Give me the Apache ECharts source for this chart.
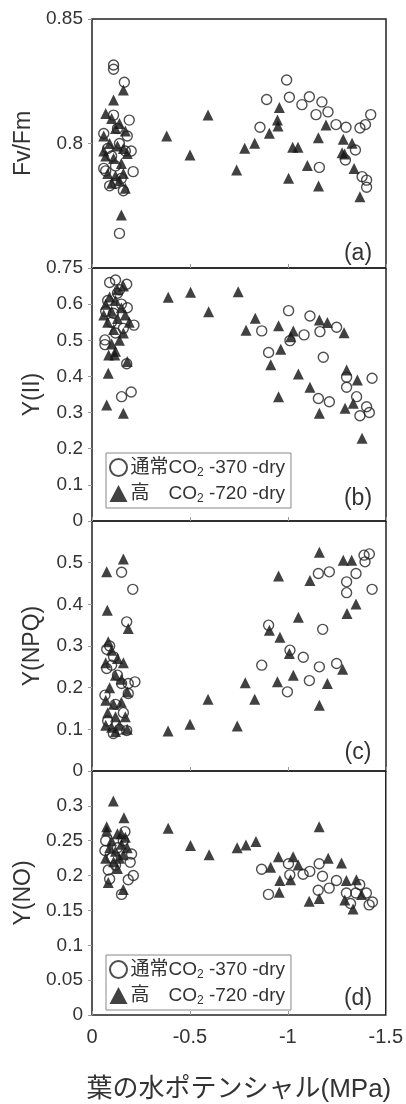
<!DOCTYPE html>
<html>
<head>
<meta charset="utf-8">
<script src="https://cdn.jsdelivr.net/npm/echarts@6/dist/echarts.min.js"></script>
<style>
  html, body { margin: 0; padding: 0; background: #fff; }
  #chart { width: 406px; height: 1104px; }
</style>
</head>
<body>
<div id="chart"></div>
<script>
// データ: [葉の水ポテンシャル(MPa), 値]
// (a) Fv/Fm
var fvfmNormal = [
  [-0.11,0.8315],[-0.11,0.8298],[-0.165,0.8246],[-0.06,0.804],[-0.19,0.8094],[-0.21,0.7887],
  [-0.14,0.7639],[-0.11,0.8114],[-0.08,0.798],[-0.13,0.806],[-0.17,0.797],[-0.2,0.797],
  [-0.07,0.789],[-0.12,0.791],[-0.15,0.786],[-0.09,0.783],[-0.16,0.781],[-0.1,0.795],
  [-0.18,0.803],[-0.14,0.8],[-0.06,0.79],[-0.12,0.784],
  [-0.993,0.8255],[-0.891,0.8177],[-1.007,0.8186],[-1.109,0.8188],[-1.071,0.8156],[-1.173,0.8167],
  [-1.143,0.8116],[-1.204,0.8127],[-0.857,0.8065],[-1.245,0.8076],[-1.296,0.8065],[-1.367,0.8062],
  [-1.395,0.8076],[-1.422,0.8116],[-1.344,0.7974],[-1.293,0.7934],[-1.16,0.7904],[-1.378,0.7867],
  [-1.401,0.7853],[-1.401,0.7824]
];
var fvfmHigh = [
  [-0.16,0.8215],[-0.11,0.8175],[-0.15,0.7713],[-0.07,0.812],[-0.1,0.81],[-0.14,0.808],
  [-0.17,0.805],[-0.06,0.803],[-0.09,0.8],[-0.13,0.799],[-0.16,0.798],[-0.07,0.795],
  [-0.11,0.794],[-0.15,0.792],[-0.18,0.796],[-0.08,0.788],[-0.12,0.787],[-0.16,0.788],
  [-0.1,0.784],[-0.14,0.785],[-0.17,0.782],[-0.06,0.797],[-0.12,0.806],
  [-0.381,0.803],[-0.5,0.7954],[-0.592,0.8114],[-0.738,0.7894],[-0.779,0.7981],[-0.83,0.8001],
  [-0.905,0.8041],[-0.956,0.8145],[-0.946,0.8094],[-0.949,0.807],[-1.003,0.786],[-1.024,0.7985],
  [-1.051,0.7985],[-1.099,0.7912],[-1.155,0.8023],[-1.156,0.7829],[-1.194,0.8074],[-1.282,0.8017],
  [-1.327,0.8001],[-1.276,0.7963],[-1.289,0.7958],[-1.337,0.79],[-1.367,0.7786]
];
// (b) Y(II)
var y2Normal = [
  [-0.12,0.667],[-0.177,0.655],[-0.214,0.542],[-0.066,0.501],[-0.066,0.488],[-0.177,0.435],
  [-0.151,0.344],[-0.2,0.357],[-0.109,0.575],[-0.16,0.533],[-0.08,0.61],[-0.13,0.63],
  [-0.1,0.55],[-0.15,0.6],[-0.07,0.58],[-0.18,0.59],[-0.12,0.52],[-0.14,0.64],[-0.09,0.66],
  [-0.866,0.526],[-0.901,0.466],[-1.003,0.582],[-1.01,0.499],[-1.082,0.515],[-1.112,0.567],
  [-1.163,0.524],[-1.18,0.453],[-1.155,0.339],[-1.211,0.33],[-1.248,0.536],[-1.299,0.398],
  [-1.299,0.37],[-1.35,0.344],[-1.367,0.291],[-1.401,0.316],[-1.415,0.3],[-1.429,0.395]
];
var y2High = [
  [-0.075,0.321],[-0.16,0.298],[-0.083,0.409],[-0.085,0.459],[-0.116,0.459],[-0.18,0.441],
  [-0.07,0.6],[-0.09,0.62],[-0.1,0.58],[-0.12,0.61],[-0.13,0.56],[-0.15,0.59],[-0.17,0.57],
  [-0.08,0.55],[-0.11,0.53],[-0.14,0.5],[-0.16,0.52],[-0.19,0.55],[-0.1,0.49],[-0.13,0.64],
  [-0.16,0.65],[-0.06,0.57],[-0.12,0.47],
  [-0.389,0.619],[-0.503,0.633],[-0.595,0.579],[-0.746,0.634],[-0.786,0.528],[-0.833,0.561],
  [-0.952,0.54],[-0.963,0.475],[-0.912,0.432],[-0.952,0.344],[-1.014,0.51],[-1.027,0.526],
  [-1.053,0.407],[-1.112,0.37],[-1.16,0.298],[-1.16,0.556],[-1.201,0.549],[-1.286,0.521],
  [-1.299,0.418],[-1.291,0.312],[-1.333,0.326],[-1.354,0.39],[-1.378,0.229]
];
// (c) Y(NPQ)
var npqNormal = [
  [-0.151,0.477],[-0.208,0.436],[-0.177,0.358],[-0.075,0.292],[-0.075,0.246],[-0.1,0.254],
  [-0.151,0.21],[-0.185,0.21],[-0.219,0.214],[-0.185,0.186],[-0.066,0.182],[-0.109,0.09],
  [-0.177,0.097],[-0.11,0.274],[-0.09,0.3],[-0.13,0.23],[-0.16,0.14],[-0.08,0.12],
  [-0.14,0.1],[-0.12,0.16],
  [-0.866,0.254],[-0.901,0.35],[-1.01,0.29],[-0.997,0.19],[-1.078,0.273],[-1.109,0.217],
  [-1.155,0.474],[-1.211,0.478],[-1.16,0.25],[-1.177,0.34],[-1.248,0.258],[-1.299,0.454],
  [-1.299,0.428],[-1.347,0.474],[-1.388,0.518],[-1.415,0.521],[-1.393,0.502],[-1.429,0.436]
];
var npqHigh = [
  [-0.075,0.478],[-0.16,0.509],[-0.078,0.386],[-0.185,0.342],[-0.083,0.31],[-0.1,0.29],
  [-0.13,0.27],[-0.16,0.26],[-0.07,0.26],[-0.12,0.23],[-0.15,0.22],[-0.09,0.2],[-0.18,0.19],
  [-0.07,0.17],[-0.11,0.16],[-0.15,0.165],[-0.08,0.14],[-0.12,0.13],[-0.17,0.13],[-0.07,0.11],
  [-0.1,0.105],[-0.14,0.11],[-0.18,0.1],[-0.12,0.095],
  [-0.388,0.096],[-0.5,0.112],[-0.592,0.172],[-0.741,0.108],[-0.782,0.212],[-0.83,0.172],
  [-0.905,0.338],[-0.952,0.468],[-0.959,0.321],[-0.946,0.214],[-1.007,0.282],[-1.027,0.23],
  [-1.053,0.369],[-1.112,0.457],[-1.16,0.525],[-1.16,0.158],[-1.201,0.21],[-1.282,0.506],
  [-1.325,0.506],[-1.301,0.378],[-1.347,0.401],[-1.279,0.244]
];
// (d) Y(NO)
var noNormal = [
  [-0.066,0.236],[-0.083,0.208],[-0.168,0.263],[-0.151,0.173],[-0.185,0.194],[-0.211,0.2],
  [-0.202,0.231],[-0.195,0.219],[-0.1,0.225],[-0.13,0.24],[-0.07,0.25],[-0.12,0.215],
  [-0.16,0.25],[-0.09,0.195],
  [-0.866,0.209],[-0.901,0.173],[-1.003,0.217],[-1.01,0.201],[-1.078,0.202],[-1.112,0.206],
  [-1.16,0.217],[-1.177,0.199],[-1.155,0.179],[-1.211,0.182],[-1.248,0.193],[-1.299,0.175],
  [-1.347,0.175],[-1.367,0.187],[-1.401,0.175],[-1.415,0.158],[-1.432,0.162],[-1.32,0.16]
];
var noHigh = [
  [-0.109,0.307],[-0.163,0.283],[-0.075,0.27],[-0.075,0.264],[-0.083,0.19],[-0.16,0.18],
  [-0.1,0.25],[-0.13,0.26],[-0.15,0.245],[-0.17,0.255],[-0.12,0.235],[-0.14,0.225],
  [-0.16,0.23],[-0.09,0.24],[-0.11,0.22],[-0.18,0.24],[-0.13,0.21],[-0.15,0.26],[-0.07,0.225],
  [-0.389,0.268],[-0.503,0.243],[-0.598,0.23],[-0.741,0.24],[-0.786,0.244],[-0.837,0.249],
  [-0.912,0.212],[-0.952,0.227],[-0.956,0.176],[-0.959,0.193],[-1.014,0.194],[-1.027,0.227],
  [-1.053,0.215],[-1.109,0.163],[-1.16,0.167],[-1.16,0.27],[-1.206,0.225],[-1.274,0.218],
  [-1.299,0.193],[-1.35,0.194],[-1.291,0.165],[-1.333,0.152],[-1.376,0.173]
];

var seriesNames = ['通常', '高'];
var panelLabels = ['(a)', '(b)', '(c)', '(d)'];
var yNames = ['Fv/Fm', 'Y(II)', 'Y(NPQ)', 'Y(NO)'];
var yMin = [0.75, 0, 0, 0];
var yMax = [0.85, 0.7, 0.6, 0.35];
var yStep = [0.05, 0.1, 0.1, 0.05];
var xName = '葉の水ポテンシャル(MPa)';
var panelData = [
  [fvfmNormal, fvfmHigh],
  [y2Normal, y2High],
  [npqNormal, npqHigh],
  [noNormal, noHigh]
];

var FONT = '"Liberation Sans", Arial, "Noto Sans CJK JP", sans-serif';
var gridTops = [19, 268, 521, 771];
var gridHeights = [249, 253, 250, 252];
var labelPos = [[358, 254], [358, 499], [358, 753], [358, 999]];

var grids = [], xAxes = [], yAxes = [], series = [], graphics = [];
for (let i = 0; i < 4; i++) {
  grids.push({
    left: 92, right: 20, top: gridTops[i], height: gridHeights[i],
    show: true, borderColor: '#222', borderWidth: 1.5, backgroundColor: 'transparent'
  });
  xAxes.push({
    gridIndex: i, type: 'value', inverse: true, min: -1.5, max: 0, interval: 0.5,
    axisLine: { show: false },
    axisTick: { show: true, inside: true, length: 4, lineStyle: { color: '#999' } },
    axisLabel: { show: i === 3, fontSize: 20, color: '#333', margin: 12, fontFamily: FONT },
    splitLine: { show: false },
    name: i === 3 ? xName : '',
    nameLocation: 'middle', nameGap: 62,
    nameTextStyle: { fontSize: 26, color: '#333', fontFamily: FONT }
  });
  yAxes.push({
    gridIndex: i, type: 'value', min: yMin[i], max: yMax[i], interval: yStep[i],
    axisLine: { show: false },
    axisTick: { show: true, length: 4, lineStyle: { color: '#999' } },
    axisLabel: { fontSize: 19, color: '#333', margin: 9, fontFamily: FONT, showMaxLabel: i === 0 },
    splitLine: { show: false },
    name: yNames[i], nameLocation: 'middle', nameGap: 48,
    nameTextStyle: { fontSize: 23, color: '#333', fontFamily: FONT }
  });
  series.push({
    name: seriesNames[1], type: 'scatter', xAxisIndex: i, yAxisIndex: i,
    symbol: 'triangle', symbolSize: 11,
    itemStyle: { color: '#111' },
    data: panelData[i][1]
  });
  series.push({
    name: seriesNames[0], type: 'scatter', xAxisIndex: i, yAxisIndex: i,
    symbol: 'circle', symbolSize: 10,
    itemStyle: { color: 'rgba(255,255,255,0)', borderColor: '#222', borderWidth: 1.4 },
    data: panelData[i][0]
  });
  graphics.push({
    type: 'text', x: labelPos[i][0], y: labelPos[i][1],
    style: { text: panelLabels[i], font: '23px ' + FONT, fill: '#333', align: 'center', verticalAlign: 'middle' }
  });
}

function legendLabel(name) {
  if (name === seriesNames[0]) return '{a|通常CO}{s|2}{a| -370 -dry}';
  return '{a|高　CO}{s|2}{a| -720 -dry}';
}
var legendStyle = {
  orient: 'vertical', left: 106, itemGap: 3, itemWidth: 18, itemHeight: 17,
  padding: [3, 6, 3, 3], borderColor: '#888', borderWidth: 1, backgroundColor: '#fff',
  data: seriesNames, formatter: legendLabel,
  textStyle: {
    color: '#333', fontFamily: FONT, padding: [0, 0, 0, -2],
    rich: {
      a: { fontSize: 19, color: '#333', fontFamily: FONT, lineHeight: 23 },
      s: { fontSize: 12, color: '#333', fontFamily: FONT, lineHeight: 23, verticalAlign: 'bottom', padding: [11, 0, 0, 0] }
    }
  }
};

var chart = echarts.init(document.getElementById('chart'));
chart.setOption({
  animation: false,
  backgroundColor: '#fff',
  grid: grids,
  xAxis: xAxes,
  yAxis: yAxes,
  legend: [
    Object.assign({}, legendStyle, { top: 453 }),
    Object.assign({}, legendStyle, { top: 955 })
  ],
  series: series,
  graphic: graphics
});
</script>
</body>
</html>
